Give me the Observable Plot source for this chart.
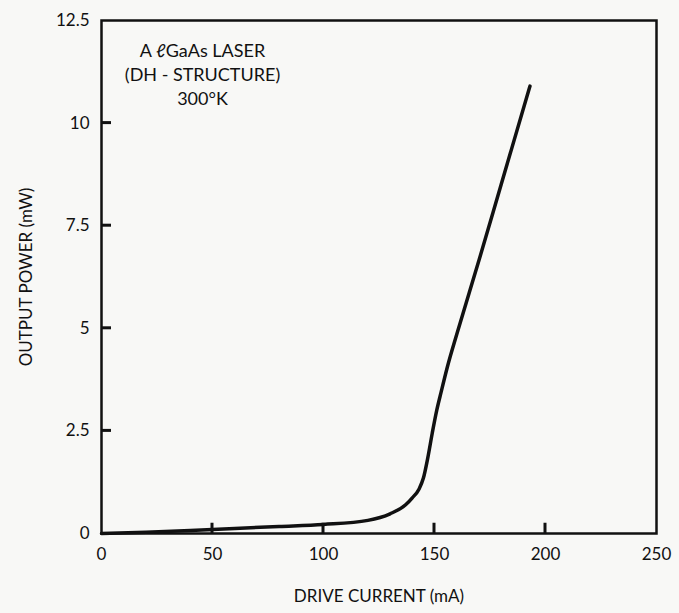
<!DOCTYPE html>
<html>
<head>
<meta charset="utf-8">
<script src="https://cdn.jsdelivr.net/npm/d3@7"></script>
<script src="https://cdn.jsdelivr.net/npm/@observablehq/plot@0.6"></script>
<style>
  html, body { margin: 0; padding: 0; background: #f8f8f6; }
  #chart svg { display: block; }
</style>
</head>
<body>
<div id="chart"></div>
<script>
// Drive current (mA) and output power (mW)
const current = [0, 20, 50, 80, 100, 120, 130, 137, 140, 143, 145, 147, 149, 151, 153, 156, 160, 170, 180, 193];
const power   = [0, 0.03, 0.1, 0.17, 0.22, 0.32, 0.48, 0.7, 0.87, 1.08, 1.35, 1.85, 2.45, 3.0, 3.45, 4.1, 4.85, 6.65, 8.5, 10.9];

const xTicks = [0, 50, 100, 150, 200, 250];
const yTicks = [0, 2.5, 5, 7.5, 10, 12.5];
const yTickLabels = ["0", "2.5", "5", "7.5", "10", "12.5"];

const noteLines = ["A \u2113GaAs LASER", "(DH - STRUCTURE)", "300\u00B0K"];

const data = current.map((c, i) => ({current: c, power: power[i]}));
const ink = "#111";
const font = "Lato, 'DejaVu Sans', sans-serif";

const W = 679, H = 613, ML = 101, MR = 23, MT = 20, MB = 80;

const chart = Plot.plot({
  width: W,
  height: H,
  marginLeft: ML,
  marginRight: MR,
  marginTop: MT,
  marginBottom: MB,
  style: {background: "#f8f8f6", color: ink, fontFamily: font, fontSize: "17px"},
  x: {domain: [0, 250]},
  y: {domain: [0, 12.5]},
  marks: [
    Plot.frame({stroke: ink, strokeWidth: 2.5}),
    Plot.line(data, {x: "current", y: "power", curve: "monotone-x", stroke: ink, strokeWidth: 3.5, strokeLinecap: "round"}),
    // inward tick marks as small filled rects anchored on the frame
    Plot.rect(xTicks.slice(1, -1), {
      x1: (d) => d, x2: (d) => d, y1: () => 0, y2: () => 0.25,
      insetLeft: -1.5, insetRight: -1.5, fill: ink
    }),
    Plot.rect(yTicks.slice(1, -1), {
      y1: (d) => d, y2: (d) => d, x1: () => 0, x2: () => 4.5,
      insetTop: -1.5, insetBottom: -1.5, fill: ink
    }),
    Plot.axisX({
      ticks: xTicks, tickSize: 0, tickPadding: 14, fontSize: 17,
      label: "DRIVE CURRENT (mA)", labelAnchor: "center", labelArrow: "none", labelOffset: 68
    }),
    Plot.axisY({
      ticks: yTicks, tickSize: 0, tickPadding: 12, fontSize: 17,
      tickFormat: (d) => yTickLabels[yTicks.indexOf(d)],
      label: "OUTPUT POWER (mW)", labelAnchor: "center", labelArrow: "none", labelOffset: 82
    }),
    Plot.text(noteLines, {
      text: (d) => d,
      x: () => 45.5,
      y: (d, i) => 11.75 - i * 0.58,
      textAnchor: "middle", fontSize: 18, fill: ink
    })
  ]
});

document.getElementById("chart").append(chart);
</script>
</body>
</html>
